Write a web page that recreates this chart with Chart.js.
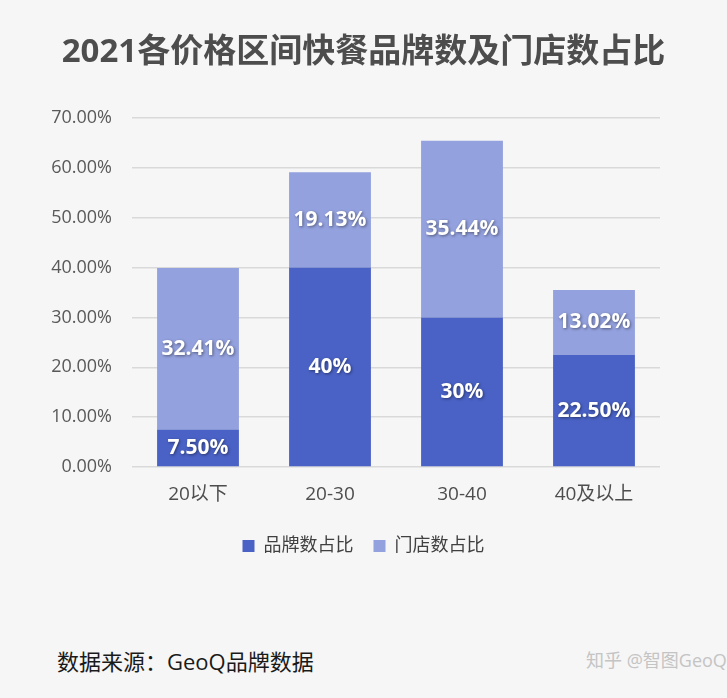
<!DOCTYPE html>
<html>
<head>
<meta charset="utf-8">
<script src="https://cdn.jsdelivr.net/npm/chart.js@4"></script>
<style>
    html, body { margin: 0; padding: 0; background: #f6f6f6; }
    #wrap { position: relative; width: 727px; height: 698px; }
    #chart-box { position: absolute; left: 0; top: 0; width: 727px; height: 571px; }
    .title { position: absolute; left: 0; top: 24px; width: 727px; text-align: center; line-height: 42px;
             font: bold 33px "Open Sans", "Noto Sans CJK SC", sans-serif; color: #4d4d4d; white-space: nowrap; }
    .source { position: absolute; left: 57px; top: 644px; line-height: 32px; white-space: nowrap;
              font: 22px "Open Sans", "Noto Sans CJK SC", sans-serif; color: #1a1a1a; }
    .mark { position: absolute; left: 586px; top: 646px; line-height: 28px; white-space: nowrap;
            font: 18px "Open Sans", "Noto Sans CJK SC", sans-serif; color: #c4c4c4; }
</style>
</head>
<body>
<div id="wrap">
    <div id="chart-box"><canvas id="barChart"></canvas></div>
    <div class="title">2021各价格区间快餐品牌数及门店数占比</div>
    <div class="source">数据来源：GeoQ品牌数据</div>
    <div class="mark">知乎 @智图GeoQ</div>
</div>
<script>
// chart data
const categories = ['20以下', '20-30', '30-40', '40及以上'];
const brandShare = [7.50, 40, 30, 22.50];
const storeShare = [32.41, 19.13, 35.44, 13.02];
const brandLabels = ['7.50%', '40%', '30%', '22.50%'];
const storeLabels = ['32.41%', '19.13%', '35.44%', '13.02%'];
const yTicks = [0, 10, 20, 30, 40, 50, 60, 70];

const FONT = '"Open Sans", "Noto Sans CJK SC", sans-serif';

// white labels in the middle of each segment
const barLabels = {
    id: 'barLabels',
    afterDatasetsDraw(chart) {
        const ctx = chart.ctx;
        const texts = [brandLabels, storeLabels];
        ctx.save();
        ctx.font = 'bold 21px ' + FONT;
        ctx.textAlign = 'center';
        ctx.textBaseline = 'middle';
        ctx.fillStyle = '#ffffff';
        ctx.shadowColor = 'rgba(0,0,0,0.45)';
        ctx.shadowBlur = 3;
        ctx.shadowOffsetX = 1;
        ctx.shadowOffsetY = 1;
        chart.data.datasets.forEach((ds, i) => {
            chart.getDatasetMeta(i).data.forEach((bar, j) => {
                ctx.fillText(texts[i][j], bar.x, (bar.y + bar.base) / 2);
            });
        });
        ctx.restore();
    }
};

document.addEventListener('DOMContentLoaded', () => {
    const ctx = document.getElementById('barChart').getContext('2d');
    new Chart(ctx, {
        type: 'bar',
        data: {
            labels: categories,
            datasets: [{
                label: '品牌数占比',
                data: brandShare,
                backgroundColor: '#4a62c6'
            }, {
                label: '门店数占比',
                data: storeShare,
                backgroundColor: '#93a1de'
            }]
        },
        options: {
            responsive: true,
            maintainAspectRatio: false,
            animation: false,
            layout: { padding: { left: 0, right: 0, top: 118, bottom: 6 } },
            datasets: {
                bar: { categoryPercentage: 0.62, barPercentage: 1 }
            },
            scales: {
                x: {
                    stacked: true,
                    afterFit: scale => { scale.height = 50; },
                    grid: { display: false, drawTicks: false },
                    border: { display: false },
                    ticks: { color: '#4d4d4d', font: { family: FONT, size: 19 }, padding: 16 }
                },
                y: {
                    stacked: true,
                    min: 0,
                    max: 70,
                    afterFit: scale => { scale.width = 132; },
                    afterBuildTicks: scale => { scale.ticks = yTicks.map(v => ({ value: v })); },
                    grid: { color: '#d9d9d9', lineWidth: 1.5, drawTicks: false },
                    border: { display: false },
                    ticks: {
                        color: '#595959',
                        padding: 20,
                        font: { family: FONT, size: 18 },
                        callback: v => v.toFixed(2) + '%'
                    }
                },
                // empty axis that only keeps the right margin
                yRight: {
                    position: 'right',
                    min: 0,
                    max: 70,
                    afterFit: scale => { scale.width = 67; },
                    grid: { display: false, drawTicks: false },
                    border: { display: false },
                    ticks: { display: false }
                }
            },
            plugins: {
                legend: {
                    position: 'bottom',
                    labels: {
                        color: '#404040',
                        font: { family: FONT, size: 18 },
                        boxWidth: 12,
                        boxHeight: 12,
                        padding: 20
                    }
                },
                tooltip: { enabled: false }
            }
        },
        plugins: [barLabels]
    });
});
</script>
</body>
</html>
